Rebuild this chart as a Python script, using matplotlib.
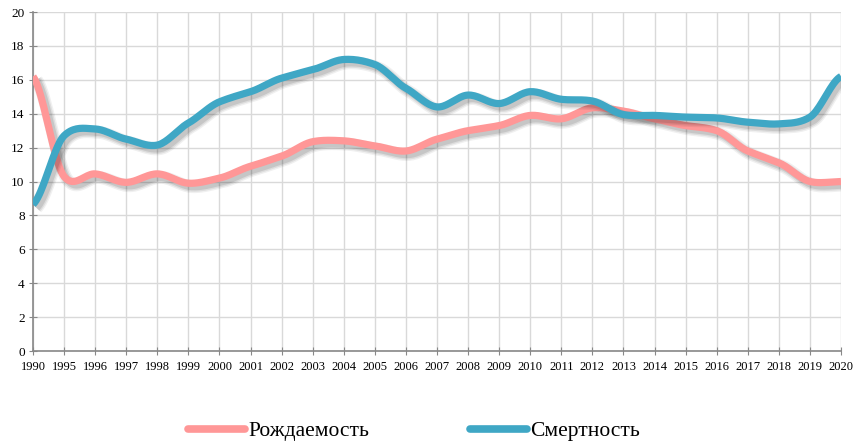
import numpy as np
import matplotlib
matplotlib.use("Agg")
import matplotlib.pyplot as plt
import matplotlib.patheffects as pe

plt.rcParams['font.family'] = ['Liberation Serif', 'DejaVu Serif']

years = ['1990', '1995', '1996', '1997', '1998', '1999', '2000', '2001', '2002',
         '2003', '2004', '2005', '2006', '2007', '2008', '2009', '2010', '2011',
         '2012', '2013', '2014', '2015', '2016', '2017', '2018', '2019', '2020']

rozhd = [16.2, 10.3, 10.45, 9.95, 10.45, 9.9, 10.2, 10.9, 11.5,
         12.35, 12.4, 12.1, 11.8, 12.5, 13.0, 13.3, 13.9, 13.7,
         14.35, 14.15, 13.7, 13.3, 13.0, 11.8, 11.1, 10.0, 10.0]

smert = [8.65, 12.7, 13.1, 12.5, 12.15, 13.45, 14.7, 15.3, 16.1,
         16.6, 17.2, 16.9, 15.5, 14.4, 15.1, 14.6, 15.3, 14.85,
         14.75, 13.95, 13.9, 13.8, 13.75, 13.5, 13.4, 13.8, 16.2]


def smooth(y, n=20, k=0.8):
    # smoothed line, bezier with damped tangents
    y = np.asarray(y, float)
    p = np.concatenate([[y[0]], y, [y[-1]]])
    xs, ys = [], []
    for i in range(len(y) - 1):
        p0, p1, p2, p3 = p[i], p[i + 1], p[i + 2], p[i + 3]
        m1 = k * (p2 - p0) / 2
        m2 = k * (p3 - p1) / 2
        t = np.linspace(0, 1, n, endpoint=False)
        h00 = 2 * t ** 3 - 3 * t ** 2 + 1
        h10 = t ** 3 - 2 * t ** 2 + t
        h01 = -2 * t ** 3 + 3 * t ** 2
        h11 = t ** 3 - t ** 2
        xs.append(i + t)
        ys.append(h00 * p1 + h10 * m1 + h01 * p2 + h11 * m2)
    xs.append([len(y) - 1])
    ys.append([y[-1]])
    return np.concatenate(xs), np.concatenate(ys)


fig = plt.figure(figsize=(8.61, 4.45), dpi=100)
ax = fig.add_axes([0.0383, 0.2112, 0.9385, 0.7618])

lw = 5.2
shadow = [pe.SimpleLineShadow(offset=(2.5, -2.5), shadow_color='k', alpha=0.06, linewidth=lw + 4),
          pe.SimpleLineShadow(offset=(2.5, -2.5), shadow_color='k', alpha=0.08, linewidth=lw + 2),
          pe.SimpleLineShadow(offset=(2.5, -2.5), shadow_color='k', alpha=0.10, linewidth=lw),
          pe.Normal()]

x = np.arange(len(years))
xr, yr = smooth(rozhd)
xs, ys = smooth(smert)
ax.plot(xr, yr, color='#ff9797', lw=lw, solid_capstyle='butt',
        label='Рождаемость', path_effects=shadow, zorder=3)
ax.plot(xs, ys, color='#3fa7c5', lw=lw, solid_capstyle='butt',
        label='Смертность', path_effects=shadow, zorder=4)

ax.set_xlim(0, len(years) - 1)
ax.set_ylim(0, 20)
ax.set_xticks(x)
ax.set_xticklabels(years, fontsize=9)
ax.set_yticks(np.arange(0, 21, 2))
ax.tick_params(axis='y', labelsize=9.5, direction='inout', length=6, color='#888888', pad=3)
ax.tick_params(axis='x', direction='inout', length=6, color='#888888', pad=4)
ax.grid(True, color='#d9d9d9', lw=1)
ax.set_axisbelow(True)
for s in ['top', 'right']:
    ax.spines[s].set_visible(False)
for s in ['left', 'bottom']:
    ax.spines[s].set_color('#888888')
    ax.spines[s].set_linewidth(1.2)

h, l = ax.get_legend_handles_labels()
leg = fig.legend(h, l, loc='center', bbox_to_anchor=(0.481, 0.031), ncol=2,
                 frameon=False, fontsize=15.5, handlelength=2.65, handletextpad=0.14,
                 columnspacing=4.7)
for ln in leg.get_lines():
    ln.set_linewidth(5.5)
    ln.set_path_effects([])
    ln.set_solid_capstyle('round')

fig.savefig('out.png', dpi=100)
